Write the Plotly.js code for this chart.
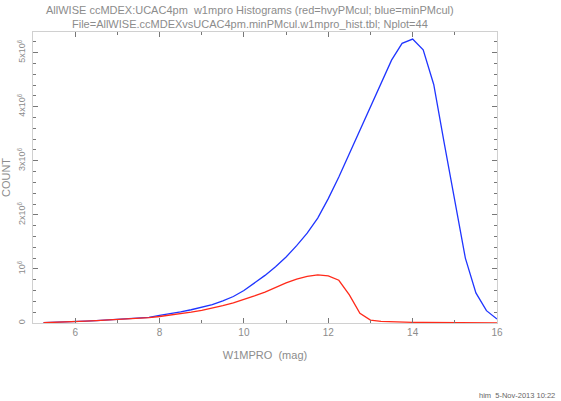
<!DOCTYPE html>
<html>
<head>
<meta charset="utf-8">
<script src="https://cdn.plot.ly/plotly-3.0.1.min.js"></script>
<style>html,body{margin:0;padding:0;background:#fff;}#chart{width:561px;height:401px;}</style>
</head>
<body>
<div id="chart"></div>
<script>
// W1MPRO magnitude bins (44 bins of 0.25 mag)
const mag = [5.25,5.5,5.75,6.0,6.25,6.5,6.75,7.0,7.25,7.5,7.75,8.0,8.25,8.5,8.75,9.0,9.25,9.5,9.75,10.0,
  10.25,10.5,10.75,11.0,11.25,11.5,11.75,12.0,12.25,12.5,12.75,13.0,13.25,13.5,13.75,14.0,14.25,14.5,14.75,15.0,
  15.25,15.5,15.75,16.0];
// blue = minPMcul counts
const countMinPM = [8000,12000,17000,25000,35000,45000,57000,70000,80000,90000,105000,140000,170000,205000,245000,290000,340000,410000,490000,600000,
  740000,880000,1040000,1220000,1430000,1660000,1940000,2300000,2700000,3130000,3580000,4020000,4440000,4860000,5170000,5250000,5050000,4410000,3320000,2280000,
  1200000,556000,228000,74000];
// red = hvyPMcul counts
const countHvyPM = [5000,10000,15000,25000,35000,45000,55000,65000,75000,85000,100000,120000,145000,170000,200000,235000,275000,320000,370000,430000,
  500000,570000,660000,740000,810000,860000,890000,870000,790000,520000,180000,55000,30000,20000,15000,12000,10000,8000,6000,5000,
  4000,3000,2000,1000];
const yTickVals = [0,1e6,2e6,3e6,4e6,5e6];
const yTickText = ['0','10<sup>6</sup>','2x10<sup>6</sup>','3x10<sup>6</sup>','4x10<sup>6</sup>','5x10<sup>6</sup>'];
const titleLine1 = 'AllWISE ccMDEX:UCAC4pm  w1mpro Histograms (red=hvyPMcul; blue=minPMcul)';
const titleLine2 = 'File=AllWISE.ccMDEXvsUCAC4pm.minPMcul.w1mpro_hist.tbl; Nplot=44';
const footer = 'him  5-Nov-2013 10:22';

const grey = '#8c8c8c';
const fontFam = 'Liberation Sans, Arial, sans-serif';

// plot area in pixels (for placing text annotations)
const PL = 33, PR = 497, PT = 32, PB = 323;
const px2x = function (px) { return (px - PL) / (PR - PL); };
const py2y = function (py) { return (PB - py) / (PB - PT); };

const traces = [
  {x: mag, y: countMinPM, type: 'scatter', mode: 'lines', line: {color: '#1f35ff', width: 1.3}, name: 'minPMcul', hoverinfo: 'x+y'},
  {x: mag, y: countHvyPM, type: 'scatter', mode: 'lines', line: {color: '#ff2a1a', width: 1.3}, name: 'hvyPMcul', hoverinfo: 'x+y'}
];

const layout = {
  width: 561, height: 401,
  margin: {l: PL, r: 561 - PR, t: PT, b: 401 - PB},
  paper_bgcolor: '#fff', plot_bgcolor: '#fff',
  showlegend: false,
  font: {family: fontFam, color: grey, size: 10},
  xaxis: {
    range: [5, 16], tick0: 0, dtick: 2,
    ticks: 'inside', ticklen: 5, tickcolor: '#777', tickwidth: 1,
    showline: true, linecolor: '#d0d0d0', linewidth: 1, mirror: 'ticks',
    showgrid: false, zeroline: false,
    minor: {dtick: 1, ticks: 'inside', ticklen: 3, tickcolor: '#777'},
    tickfont: {size: 10, color: grey},
    title: {text: 'W1MPRO  (mag)', font: {size: 11, color: grey}, standoff: 14}
  },
  yaxis: {
    range: [0, 5.38e6],
    tickmode: 'array', tickvals: yTickVals, ticktext: yTickText, tickangle: -90,
    ticks: 'inside', ticklen: 5, tickcolor: '#777', tickwidth: 1,
    showline: true, linecolor: '#d0d0d0', linewidth: 1, mirror: 'ticks',
    showgrid: false, zeroline: false,
    minor: {dtick: 2e5, ticks: 'inside', ticklen: 3, tickcolor: '#777'},
    tickfont: {size: 9, color: grey},
    ticklabelstandoff: 3,
    title: {text: 'COUNT', font: {size: 11, color: grey}, standoff: 4}
  },
  annotations: [
    {text: titleLine1, xref: 'paper', yref: 'paper', x: px2x(250), xanchor: 'center', y: py2y(10), yanchor: 'middle',
     showarrow: false, font: {size: 11, color: grey}},
    {text: titleLine2, xref: 'paper', yref: 'paper', x: px2x(250), xanchor: 'center', y: py2y(24), yanchor: 'middle',
     showarrow: false, font: {size: 11, color: grey}},
    {text: footer, xref: 'paper', yref: 'paper', x: px2x(557), xanchor: 'right', y: py2y(395), yanchor: 'middle',
     showarrow: false, font: {size: 7.5, color: '#666'}}
  ]
};

Plotly.newPlot('chart', traces, layout, {displayModeBar: false, staticPlot: true});
</script>
</body>
</html>
